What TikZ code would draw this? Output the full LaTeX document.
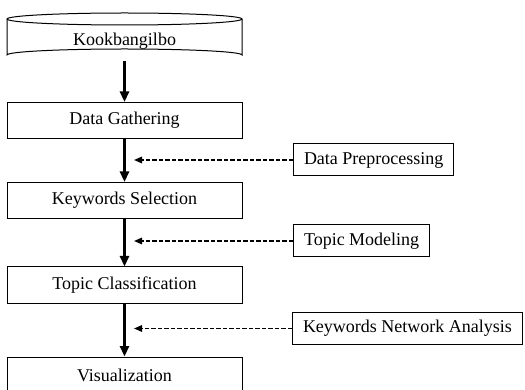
\documentclass[tikz,border=0pt]{standalone}
\usepackage{fontspec}
\setmainfont{Liberation Serif}
\usetikzlibrary{arrows.meta}
\begin{document}
\begin{tikzpicture}[x=1pt,y=-1pt,
  mainbox/.style={draw, line width=1pt, minimum width=235pt, minimum height=36pt, inner sep=0pt},
  sidebox/.style={draw, line width=1pt, anchor=west, minimum height=32pt, inner xsep=10.5pt, inner ysep=0pt},
  flow/.style={line width=2.4pt, -{Triangle[length=10.5pt,width=9pt]}},
  feed/.style={line width=1.5pt, dash pattern=on 4.5pt off 2pt, -{Triangle[length=8pt,width=6.5pt]}}
]
\useasboundingbox (0,0) rectangle (525,390);
\fontsize{18}{21}\selectfont
% cylinder
\draw[line width=1pt] (7,19) -- (7,55) arc[start angle=180, end angle=360, x radius=117.5, y radius=6] -- (242,19);
\draw[line width=1pt] (124.5,19) ellipse[x radius=117.5, y radius=6];
\node (kook) at (124.5,41.5) {Kookbangilbo};
\coordinate (kbot) at (124.5,61);
% main boxes
\node[mainbox] (dg) at (124.5,120.5) {Data Gathering};
\node[mainbox] (ks) at (124.5,200.5) {Keywords Selection};
\node[mainbox] (tc) at (124.5,285) {Topic Classification};
\node[mainbox] (vis) at (124.5,375) {Visualization};
% side boxes
\node[sidebox] (dp) at (293,160) {Data Preprocessing};
\node[sidebox] (tm) at (293,241) {Topic Modeling};
\node[sidebox] (kna) at (292,328.5) {Keywords Network Analysis};
% main arrows
\draw[flow] (kbot) -- (dg.north);
\draw[flow] (dg.south) -- (ks.north);
\draw[flow] (ks.south) -- (tc.north);
\draw[flow] (tc.south) -- (vis.north);
% feed targets
\coordinate (t1) at (134,160);
\coordinate (t2) at (134,241);
\coordinate (t3) at (134,328.5);
\draw[feed] (dp.west) -- (t1);
\draw[feed] (tm.west) -- (t2);
\draw[feed] (kna.west) -- (t3);
\end{tikzpicture}
\end{document}
